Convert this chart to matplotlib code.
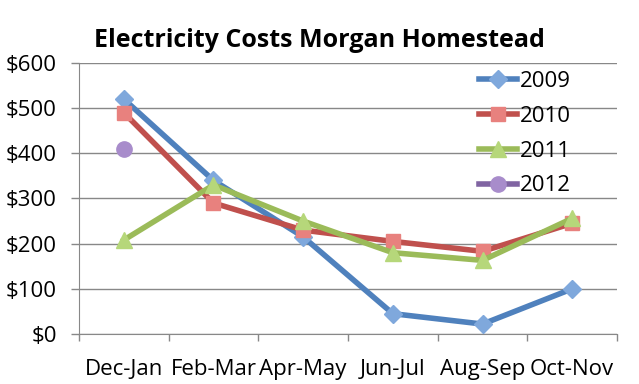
import numpy as np
import matplotlib.pyplot as plt
from matplotlib.ticker import FuncFormatter, FixedLocator

plt.rcParams['font.family'] = ['Open Sans', 'DejaVu Sans']

periods = ['Dec-Jan', 'Feb-Mar', 'Apr-May', 'Jun-Jul', 'Aug-Sep', 'Oct-Nov']
cost_2009 = [520, 340, 215, 45, 22, 100]
cost_2010 = [490, 290, 230, 205, 183, 245]
cost_2011 = [208, 330, 250, 180, 163, 256]
cost_2012 = [410, None, None, None, None, None]

series = [
    ('2009', cost_2009, '#4F81BD', '#7FA8DC', 'D', 9),
    ('2010', cost_2010, '#C0504D', '#E8817E', 's', 10),
    ('2011', cost_2011, '#9BBB59', '#B6D77A', '^', 11),
    ('2012', cost_2012, '#8064A2', '#A88CCB', 'o', 11),
]

fig = plt.figure(figsize=(6.39, 3.84), dpi=100)
ax = fig.add_axes([0.1236, 0.1302, 0.8420, 0.7058])

x = np.arange(len(periods)) + 0.5
for name, vals, col, face, mk, ms in series:
    y = np.array([np.nan if v is None else v for v in vals], dtype=float)
    ax.plot(x, y, color=col, lw=4, marker=mk, ms=ms, mfc=face,
            mec=face, label=name, zorder=3)

ax.set_xlim(0, len(periods))
ax.set_ylim(0, 600)
ax.set_yticks(np.arange(0, 601, 100))
ax.yaxis.set_major_formatter(FuncFormatter(lambda v, p: '$%d' % v))
ax.xaxis.set_major_locator(FixedLocator(np.arange(0, len(periods) + 1)))
ax.xaxis.set_minor_locator(FixedLocator(x))
ax.set_xticklabels([])
ax.set_xticklabels(periods, minor=True)
ax.tick_params(axis='x', which='major', length=5, color='#888888', width=1)
ax.tick_params(axis='x', which='minor', length=0, labelsize=16, pad=18)
ax.tick_params(axis='y', length=6, color='#888888', width=1, labelsize=16, pad=10)

ax.grid(axis='y', color='#888888', lw=1)
ax.set_axisbelow(True)
for s in ['top', 'right']:
    ax.spines[s].set_visible(False)
for s in ['left', 'bottom']:
    ax.spines[s].set_color('#888888')

fig.text(0.5, 0.895, 'Electricity Costs Morgan Homestead', fontsize=18,
         fontweight='bold', ha='center', va='center')

ax.legend(loc='upper right', frameon=False, fontsize=16, handlelength=1.7,
          handletextpad=0.15, labelspacing=0.62, borderaxespad=0.0, borderpad=0,
          bbox_to_anchor=(0.915, 0.97))

fig.savefig('out.png', dpi=100)
